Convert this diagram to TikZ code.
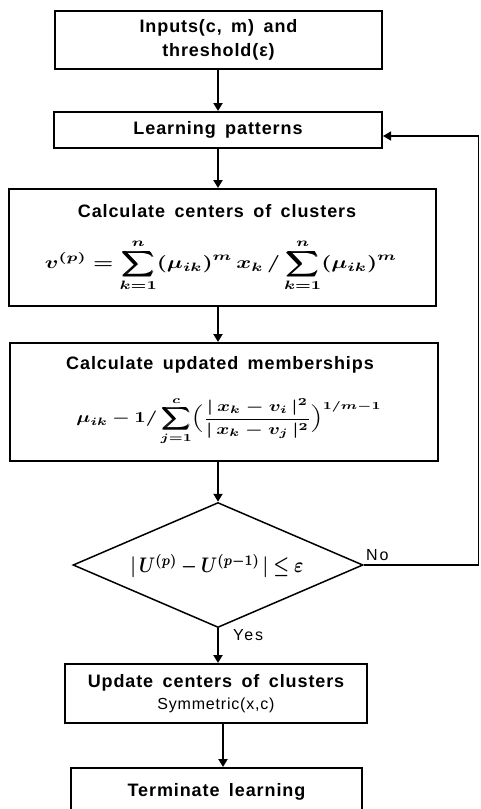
\documentclass[tikz,border=0pt]{standalone}
\usepackage{amsmath}
\usepackage{bm}
\usepackage{fontspec}
\setmainfont{Liberation Sans}
\newfontfamily\boxfont[LetterSpace=5,WordSpace=1.6]{Liberation Sans}
\newfontfamily\labfont[LetterSpace=12]{Liberation Sans}
\usetikzlibrary{arrows.meta,shapes.geometric}
\begin{document}
\begin{tikzpicture}[x=1pt,y=-1pt,
  box/.style={draw,line width=2pt,rectangle,inner sep=0pt,align=center,
    font=\boxfont\fontsize{18}{24}\selectfont\bfseries},
  lbl/.style={inner sep=0pt,align=center,font=\boxfont\fontsize{18}{23}\selectfont\bfseries},
  arr/.style={line width=2pt,-{Triangle[width=9pt,length=8pt]}},
  fbline/.style={line width=1.6pt},
  dec/.style={draw,line width=1.5pt,diamond,aspect=2.32,inner sep=0pt,
    minimum width=290pt,minimum height=125pt}]
\clip (0,0) rectangle (480,809);
\fill[white] (0,0) rectangle (480,809);
% boxes
\node[box,minimum width=327pt,minimum height=58pt] (b1) at (218.5,40)
  {Inputs(c, m) and\\threshold(ε)};
\node[box,minimum width=328pt,minimum height=36pt] (b2) at (218,130) {Learning patterns};
\node[box,minimum width=427pt,minimum height=117pt] (b3) at (222.5,247.5) {};
\node[lbl] (t3) at (217,211) {Calculate centers of clusters};
\node[inner sep=0pt] (f3) at (221,265.5) {\resizebox*{352pt}{52pt}{$\displaystyle
  \bm{v^{(p)}=\sum_{k=1}^{n}(\mu_{ik})^{m}\,x_k\,/\sum_{k=1}^{n}(\mu_{ik})^{m}}$}};
\node[box,minimum width=428pt,minimum height=118pt] (b4) at (224,402) {};
\node[lbl] (t4) at (220,365) {Calculate updated memberships};
\node[inner sep=0pt] (f4) at (229,421) {\resizebox*{305pt}{48pt}{$\displaystyle
  \bm{\mu_{ik}-1/\sum_{j=1}^{c}\Bigl(\frac{|\,x_k-v_i\,|^2}{|\,x_k-v_j\,|^2}\Bigr)^{1/m-1}}$}};
\node[dec] (d) at (218,565) {};
\node[inner sep=0pt] (fd) at (217,566) {\resizebox*{173pt}{24pt}{$\bm{|\,U^{(p)}-U^{(p-1)}\,|\le\varepsilon}$}};
\node[box,minimum width=302pt,minimum height=59pt] (b5) at (216,693.5)
  {Update centers of clusters\\[-2pt]{\mdseries\fontsize{16}{20}\selectfont Symmetric(x,c)}};
\node[box,minimum width=291pt,minimum height=70pt] (b6) at (216.5,803) {};
\node[lbl] (t6) at (216.5,792) {Terminate learning};
% labels
\node[inner sep=0pt,anchor=south west,font=\labfont\fontsize{16}{20}\selectfont] (no) at (366,561) {No};
\node[inner sep=0pt,anchor=west,font=\labfont\fontsize{16}{20}\selectfont] (yes) at (233,635) {Yes};
% connectors
\draw[arr] (b1.south -| b2.north) -- (b2.north);
\draw[arr] (b2.south -| d.north) -- (b3.north -| d.north);
\draw[arr] (b3.south -| d.north) -- (b4.north -| d.north);
\draw[arr] (b4.south -| d.north) -- (d.north);
\draw[arr] (d.south) -- (b5.north -| d.south);
\coordinate (c6) at (223,0);
\draw[arr] (b5.south -| c6) -- (b6.north -| c6);
\coordinate (fb1) at (478.5,565);
\coordinate (fb2) at (478.5,136);
\draw[fbline] (d.east) -- (fb1) -- (fb2);
\draw[fbline,-{Triangle[width=9pt,length=8pt]}] (fb2) -- (fb2 -| b2.east);
\end{tikzpicture}
\end{document}
